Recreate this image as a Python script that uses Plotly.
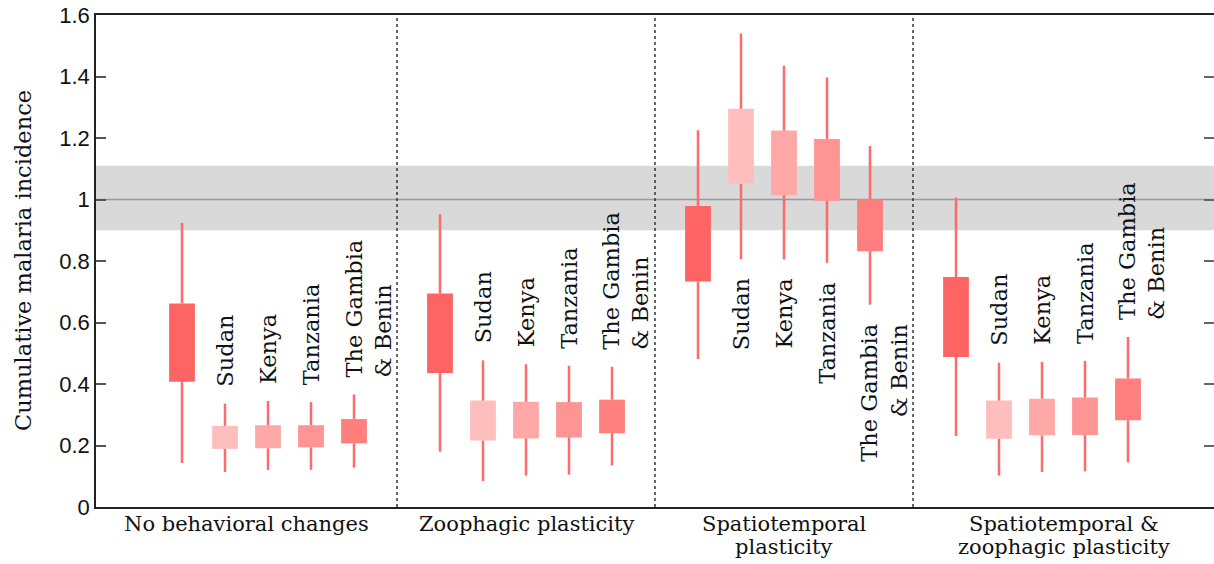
import plotly.graph_objects as go

# ---------------- data ----------------
group_labels = [["No behavioral changes"],
                ["Zoophagic plasticity"],
                ["Spatiotemporal", "plasticity"],
                ["Spatiotemporal &", "zoophagic plasticity"]]
group_bounds = [0, 7, 13, 19, 26]
group_centers = [3.5, 10, 16, 22.5]

series_names = ["All", "Sudan", "Kenya", "Tanzania", "The Gambia<br>& Benin"]
series_colors = ["#FF6464", "#FFBEBE", "#FFA8A8", "#FF9494", "#FF7E7E"]

# x position of each box (per group: All, Sudan, Kenya, Tanzania, Gambia)
positions = [[2, 3, 4, 5, 6],
             [8, 9, 10, 11, 12],
             [14, 15, 16, 17, 18],
             [20, 21, 22, 23, 24]]

# whisker low, box low, box high, whisker high  (per group, per series)
whisker_low = [[0.143, 0.114, 0.120, 0.121, 0.128],
               [0.180, 0.084, 0.102, 0.105, 0.135],
               [0.481, 0.806, 0.805, 0.794, 0.658],
               [0.231, 0.102, 0.114, 0.116, 0.145]]
box_low = [[0.407, 0.189, 0.191, 0.194, 0.207],
           [0.436, 0.216, 0.223, 0.226, 0.240],
           [0.733, 1.051, 1.014, 0.996, 0.832],
           [0.488, 0.222, 0.233, 0.234, 0.282]]
box_high = [[0.662, 0.264, 0.266, 0.266, 0.286],
            [0.694, 0.346, 0.342, 0.341, 0.349],
            [0.979, 1.295, 1.224, 1.197, 1.001],
            [0.748, 0.346, 0.352, 0.356, 0.418]]
whisker_high = [[0.924, 0.336, 0.345, 0.341, 0.366],
                [0.952, 0.477, 0.464, 0.459, 0.456],
                [1.225, 1.540, 1.435, 1.397, 1.174],
                [1.006, 0.469, 0.472, 0.475, 0.553]]

labels_below = [False, False, True, False]

reference_value = 1.0
reference_band = [0.9, 1.11]

y_tick_vals = [0, 0.2, 0.4, 0.6, 0.8, 1.0, 1.2, 1.4, 1.6]
y_tick_text = ["0", "0.2", "0.4", "0.6", "0.8", "1", "1.2", "1.4", "1.6"]
y_title = "Cumulative malaria incidence"

# ---------------- figure ----------------
SERIF = "DejaVu Serif"
SANS = "Liberation Sans, Arial"
WHISKER = "#FF6B6B"

fig = go.Figure()

# boxes
for s, (name, col) in enumerate(zip(series_names, series_colors)):
    xs = [positions[g][s] for g in range(4)]
    base = [box_low[g][s] for g in range(4)]
    h = [box_high[g][s] - box_low[g][s] for g in range(4)]
    fig.add_trace(go.Bar(x=xs, y=h, base=base, width=0.6,
                         marker=dict(color=col, line=dict(width=0)),
                         name=name.replace("<br>", " "), showlegend=False,
                         hoverinfo="skip"))

# whiskers
wx, wy = [], []
for g in range(4):
    for s in range(5):
        p = positions[g][s]
        wx += [p, p, None, p, p, None]
        wy += [whisker_low[g][s], box_low[g][s], None,
               box_high[g][s], whisker_high[g][s], None]
fig.add_trace(go.Scatter(x=wx, y=wy, mode="lines",
                         line=dict(color=WHISKER, width=2.5),
                         showlegend=False, hoverinfo="skip"))

# dummy trace to activate the right-hand tick axis
fig.add_trace(go.Scatter(x=[None], y=[None], yaxis="y2", showlegend=False,
                         hoverinfo="skip"))

shapes = [
    dict(type="rect", xref="paper", yref="y", x0=0, x1=1,
         y0=reference_band[0], y1=reference_band[1],
         fillcolor="#D9D9D9", line=dict(width=0), layer="below"),
    dict(type="line", xref="paper", yref="y", x0=0, x1=1,
         y0=reference_value, y1=reference_value,
         line=dict(color="#9A9A9A", width=1.5), layer="below"),
]
for b in group_bounds[1:-1]:
    shapes.append(dict(type="line", xref="x", yref="y", x0=b, x1=b,
                       y0=0, y1=1.6,
                       line=dict(color="#333333", width=1.5, dash="dot")))

annotations = []
# country labels
for g in range(4):
    for s in range(1, 5):
        two_line = "<br>" in series_names[s]
        if labels_below[g]:
            yv, ya, ysh, al = whisker_low[g][s], "top", -17, "right"
        else:
            yv, ya, ysh, al = whisker_high[g][s], "bottom", 15, "left"
        annotations.append(dict(
            x=positions[g][s], y=yv, xref="x", yref="y",
            text=series_names[s], showarrow=False, textangle=-90,
            xanchor="center", yanchor=ya, yshift=ysh,
            xshift=14 if two_line else 0, align=al,
            font=dict(family=SERIF, size=22.5, color="#111111")))

# group labels
for g, lines in enumerate(group_labels):
    for i, line in enumerate(lines):
        annotations.append(dict(
            x=group_centers[g], y=0, xref="x", yref="paper",
            text=line, showarrow=False, xanchor="center", yanchor="top",
            yshift=-3 - 22.7 * i,
            font=dict(family=SERIF, size=21, color="#111111")))

# y title
annotations.append(dict(
    x=-(96 - 23) / 1118, y=0.5, xref="paper", yref="paper",
    text=y_title, showarrow=False, textangle=-90,
    xanchor="center", yanchor="middle",
    font=dict(family=SERIF, size=22.5, color="#111111")))

fig.update_layout(
    width=1214, height=564,
    margin=dict(l=96, r=0, t=15, b=57),
    paper_bgcolor="white", plot_bgcolor="white",
    barmode="overlay",
    shapes=shapes, annotations=annotations,
    xaxis=dict(range=[0, 26], showgrid=False, zeroline=False,
               showticklabels=False, ticks="", showline=True, mirror=True,
               linecolor="#222222", linewidth=1.5),
    yaxis=dict(range=[0, 1.6], tickvals=y_tick_vals, ticktext=y_tick_text,
               ticks="inside", ticklen=10, tickwidth=1.5, tickcolor="#555555",
               showgrid=False, zeroline=False, showline=True,
               linecolor="#222222", linewidth=1.5,
               tickfont=dict(family=SANS, size=22, color="#111111")),
    yaxis2=dict(range=[0, 1.6], tickvals=y_tick_vals, overlaying="y",
                side="right", anchor="x", ticks="inside", ticklen=10,
                tickwidth=1.5, tickcolor="#666666", showticklabels=False,
                showgrid=False, zeroline=False, showline=False),
)

fig.write_html("out.html")
